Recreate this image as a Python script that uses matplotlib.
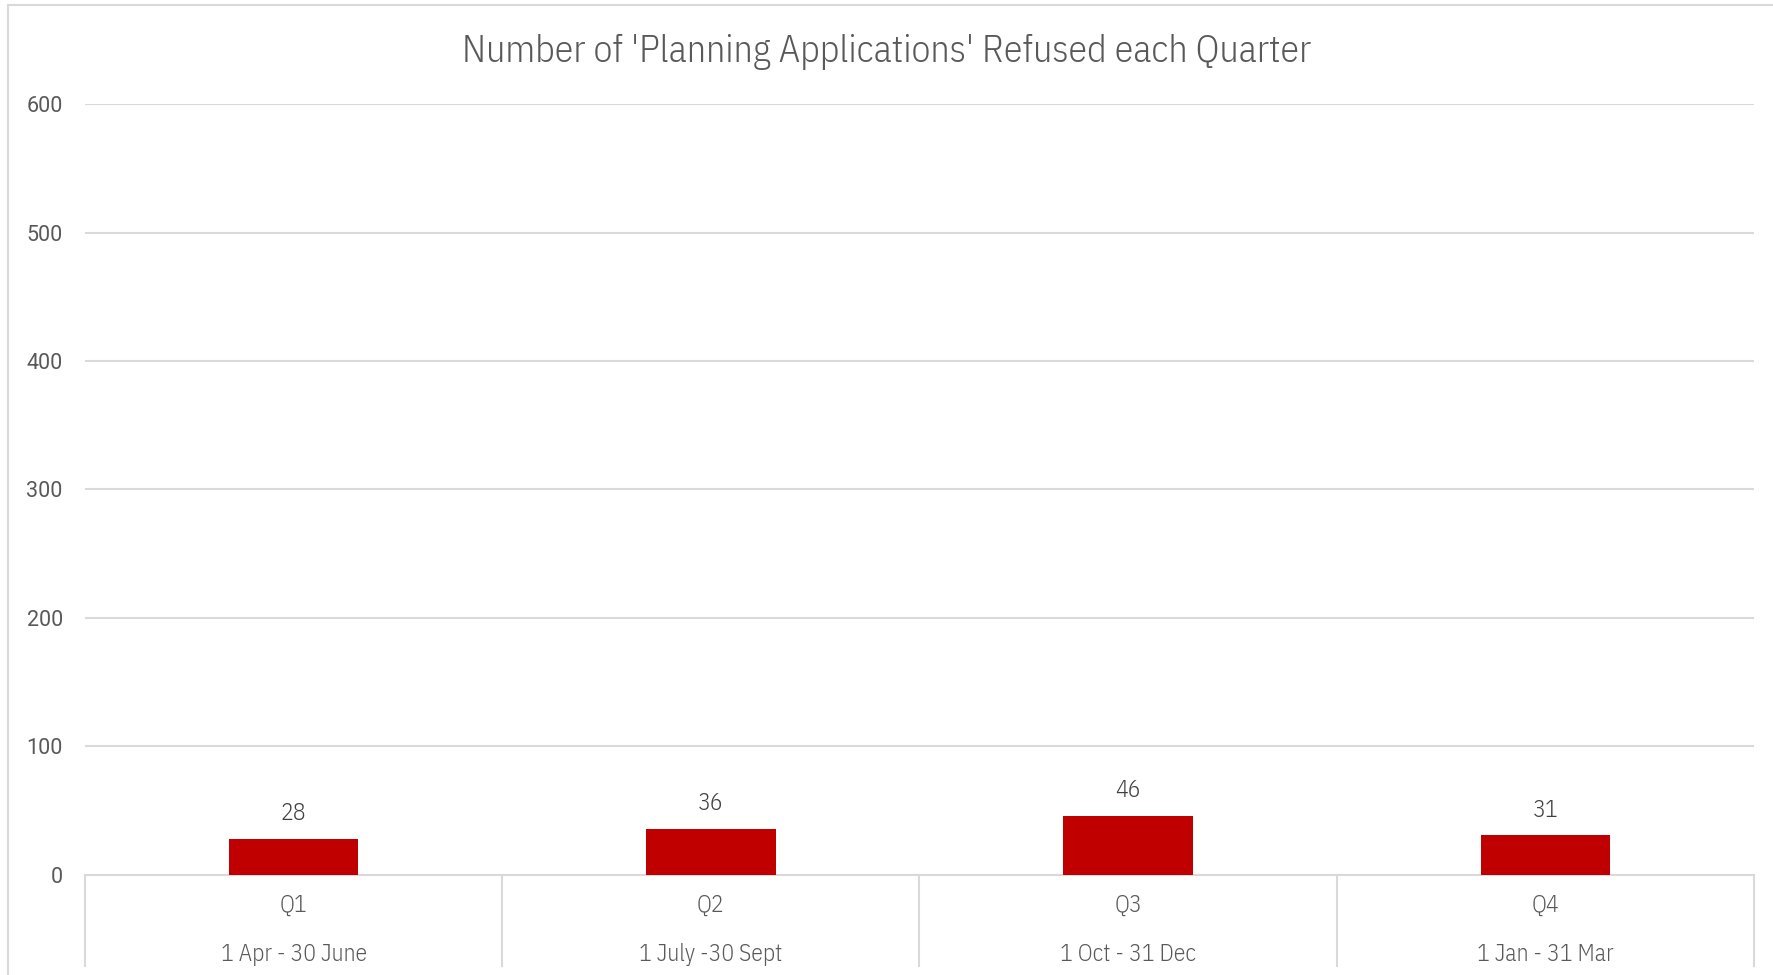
import matplotlib.pyplot as plt
from matplotlib.patches import Rectangle
import matplotlib.transforms as mtransforms

# Data
quarters = ['Q1', 'Q2', 'Q3', 'Q4']
periods = ['1 Apr - 30 June', '1 July -30 Sept', '1 Oct - 31 Dec', '1 Jan - 31 Mar']
refused = [28, 36, 46, 31]

title = "Number of 'Planning Applications' Refused each Quarter"
font_main = ['IBM Plex Sans Condensed', 'DejaVu Sans']
font_ticks = ['Roboto', 'DejaVu Sans']
text_col = '#595959'
grid_col = '#d9d9d9'

fig = plt.figure(figsize=(17.74, 9.75), dpi=100)
ax = fig.add_axes([0.0479, 0.1026, 0.9408, 0.7907])

# outer chart border (only left/top visible in reference)
fig.patches.append(Rectangle((0.0045, -0.01), 1.2, 1.005, transform=fig.transFigure,
                             fill=False, edgecolor=grid_col, linewidth=1.5))

x = range(len(quarters))
bars = ax.bar(x, refused, width=0.31, color='#c00000', zorder=3)

ax.set_xlim(-0.5, len(quarters) - 0.5)
ax.set_ylim(0, 600)
ax.set_yticks(range(0, 601, 100))
ax.grid(axis='y', color=grid_col, linewidth=1.5, zorder=0)
ax.tick_params(axis='y', length=0, pad=16, labelsize=15.5, labelcolor=text_col)
for lbl in ax.get_yticklabels():
    lbl.set_family(font_ticks)

for s in ['top', 'right', 'left']:
    ax.spines[s].set_visible(False)
ax.spines['bottom'].set_color(grid_col)
ax.spines['bottom'].set_linewidth(1.5)

# category separators as long minor ticks
ax.set_xticks([i - 0.5 for i in range(len(quarters) + 1)], minor=True)
ax.set_xticks([])
ax.tick_params(axis='x', which='minor', length=66, width=1.5, color=grid_col)

trans = mtransforms.blended_transform_factory(ax.transData, ax.transAxes)
for i in x:
    ax.text(i, -0.040, quarters[i], transform=trans, ha='center', va='center',
            fontsize=17, color=text_col, family=font_main, weight=300)
    ax.text(i, -0.103, periods[i], transform=trans, ha='center', va='center',
            fontsize=17, color=text_col, family=font_main, weight=300)

for b, v in zip(bars, refused):
    ax.annotate(str(v), (b.get_x() + b.get_width() / 2, v), xytext=(0, 18),
                textcoords='offset points', ha='center', va='center',
                fontsize=17, color='#404040', family=font_main, weight=300)

fig.text(0.5, 0.947, title, ha='center', va='center', fontsize=27.3,
         color=text_col, family=font_main, weight=300)

fig.savefig('out.png', dpi=100)
